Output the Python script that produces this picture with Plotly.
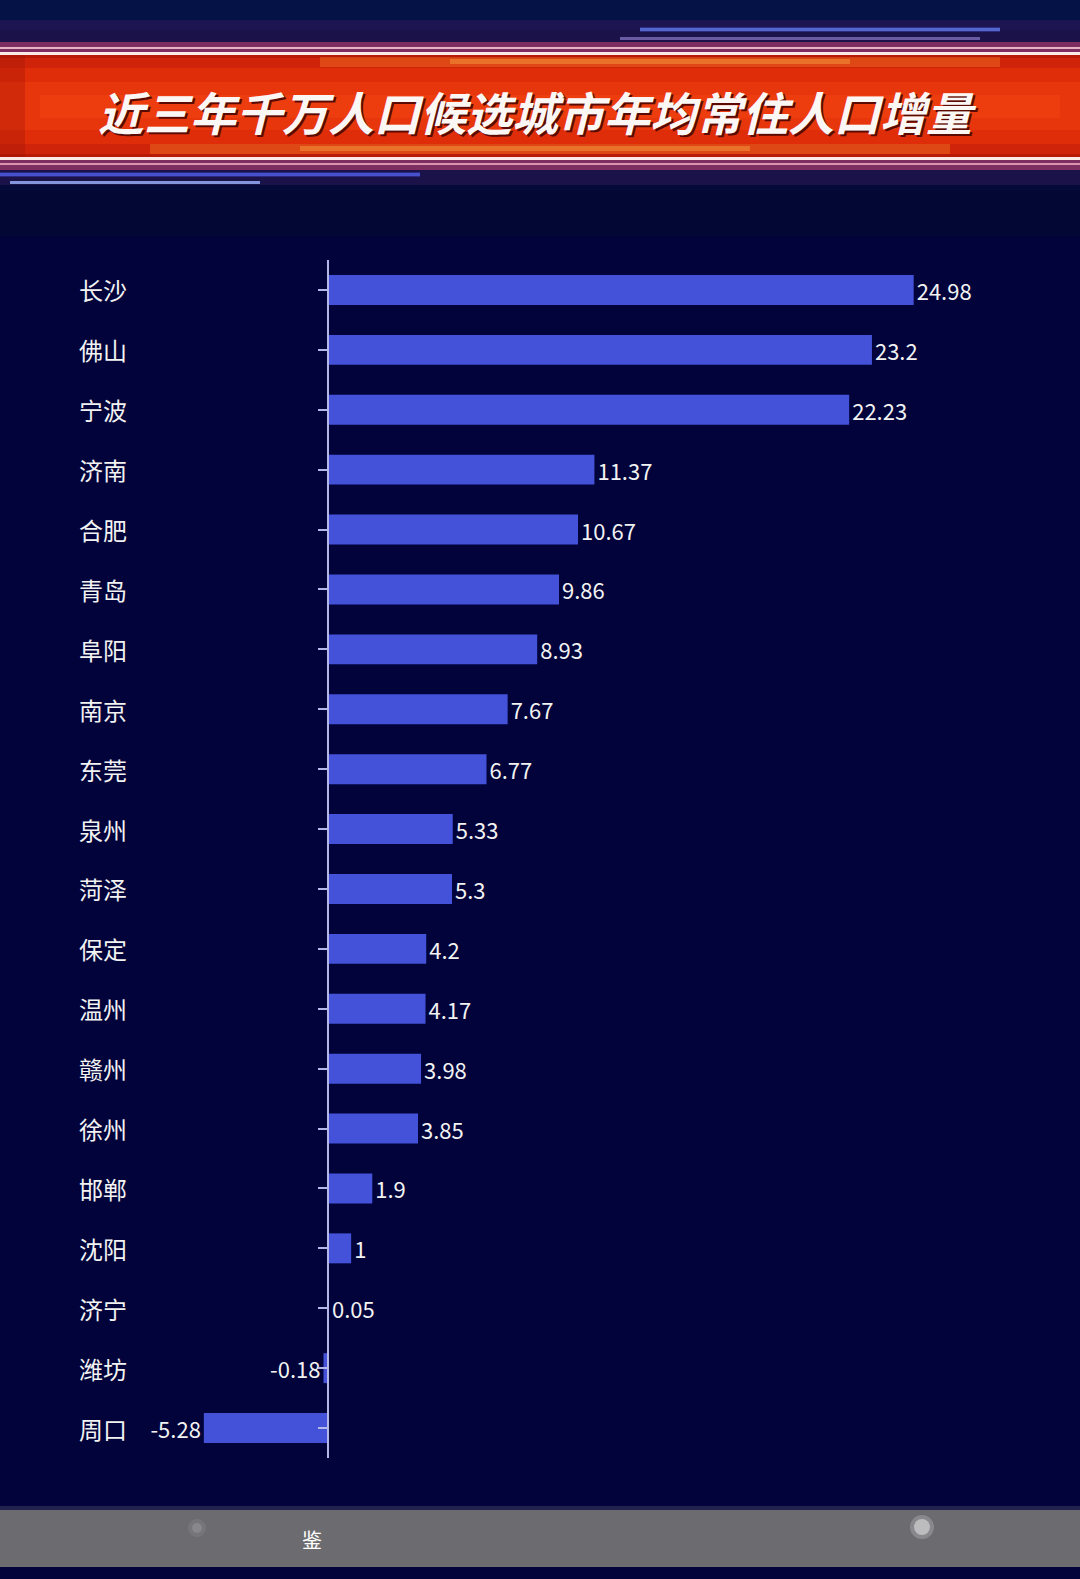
import plotly.graph_objects as go

W, H = 1080, 1579

title_text = "近三年千万人口候选城市年均常住人口增量"
cities = ["长沙", "佛山", "宁波", "济南", "合肥", "青岛", "阜阳", "南京", "东莞", "泉州",
          "菏泽", "保定", "温州", "赣州", "徐州", "邯郸", "沈阳", "济宁", "潍坊", "周口"]
values = [24.98, 23.2, 22.23, 11.37, 10.67, 9.86, 8.93, 7.67, 6.77, 5.33,
          5.3, 4.2, 4.17, 3.98, 3.85, 1.9, 1, 0.05, -0.18, -5.28]
value_labels = [f"{v:g}" for v in values]
footer_text = "鉴"

BG = "#01033a"
BAR = "#4352d9"
AXIS = "#b4b8e8"
FONT = "Noto Sans CJK SC"

X_MIN, X_MAX = -13.97, 32.07


def py(p):
    return 1 - p / H


def px(p):
    return p / W


fig = go.Figure()
fig.add_trace(go.Bar(
    x=values, y=cities, orientation="h",
    marker=dict(color=BAR, line=dict(width=0)),
    text=value_labels, textposition="outside", constraintext="none",
    textfont=dict(color="#f2f2f2", size=22, family=FONT),
    cliponaxis=False, hoverinfo="skip",
))

shapes = []


def rect(x0, y0, x1, y1, color, opacity=1.0, layer="above"):
    shapes.append(dict(type="rect", xref="paper", yref="paper",
                       x0=px(x0), x1=px(x1), y0=py(y1), y1=py(y0),
                       fillcolor=color, opacity=opacity, line=dict(width=0), layer=layer))


# header background
rect(0, 0, 1080, 236, "#040b3a")
rect(0, 0, 1080, 30, "#051448", 0.8)
rect(0, 190, 1080, 236, "#030733", 0.9)
rect(0, 20, 1080, 52, "#3a1a60", 0.45)
rect(0, 158, 1080, 185, "#3a1a60", 0.45)
# blue streaks
rect(640, 27, 1000, 32, "#4f6cff", 0.3)
rect(640, 28, 1000, 31, "#6f8cff", 0.6)
rect(620, 37, 980, 40, "#b7a4ff", 0.5)
rect(0, 172, 420, 177, "#4b5cff", 0.3)
rect(0, 173, 420, 176, "#5b6cff", 0.6)
rect(10, 181, 260, 184, "#9fb8ff", 0.8)
# pink glow
rect(0, 42, 1080, 52, "#c04070", 0.6)
rect(0, 159, 1080, 170, "#c04070", 0.6)
# red band gradient
rect(0, 52, 1080, 160, "#b81a08")
rect(0, 58, 1080, 154, "#cf2409")
rect(0, 68, 1080, 144, "#df2d0a")
rect(0, 82, 1080, 130, "#e8360c")
rect(40, 95, 1060, 118, "#ee3f0e", 0.8)
rect(0, 52, 25, 160, "#9c1006", 0.3)
# yellow glow
rect(320, 57, 1000, 67, "#ff9a30", 0.3)
rect(450, 59, 850, 64, "#ffc050", 0.35)
rect(150, 144, 950, 154, "#ff9a30", 0.3)
rect(300, 146, 750, 151, "#ffc050", 0.35)
# white lines
rect(0, 47, 1080, 49, "#ffd6e0", 0.8)
rect(0, 52, 1080, 55, "#fff4f4", 0.95)
rect(0, 157, 1080, 160, "#fff4f4", 0.95)
rect(0, 163, 1080, 165, "#ffc0d0", 0.7)

# footer
rect(0, 1510, 1080, 1567, "#6c6c70")
rect(0, 1506, 1080, 1510, "#2a2a55", 0.8)
for cx, cy, r, op, col in [(197, 1528, 9, 0.2, "#a0a0a6"), (197, 1528, 5, 0.3, "#b0b0b6"),
                           (922, 1527, 12, 0.25, "#e0e0e4"), (922, 1527, 8, 0.5, "#f0f0f2")]:
    shapes.append(dict(type="circle", xref="paper", yref="paper",
                       x0=px(cx - r), x1=px(cx + r), y0=py(cy + r), y1=py(cy - r),
                       fillcolor=col, opacity=op, line=dict(width=0)))

annotations = [
    dict(text=f"<b><i>{title_text}</i></b>", xref="paper", yref="paper",
         x=px(539), y=py(113), xanchor="center", yanchor="middle", showarrow=False,
         font=dict(family=FONT, size=46, color="#5a0a02")),
    dict(text=f"<b><i>{title_text}</i></b>", xref="paper", yref="paper",
         x=px(537), y=py(111), xanchor="center", yanchor="middle", showarrow=False,
         font=dict(family=FONT, size=46, color="#fbf7f5")),
    dict(text=footer_text, xref="paper", yref="paper", x=px(312), y=py(1539),
         xanchor="center", yanchor="middle", showarrow=False,
         font=dict(family=FONT, size=20, color="#ffffff")),
]
for c in cities:
    annotations.append(dict(text=c, xref="paper", yref="y", x=px(77), y=c,
                            xanchor="left", yanchor="middle", showarrow=False,
                            font=dict(family=FONT, size=24, color="#f2f2f2")))

pos = (0 - X_MIN) / (X_MAX - X_MIN)

fig.update_layout(
    width=W, height=H, margin=dict(l=0, r=0, t=0, b=0),
    paper_bgcolor=BG, plot_bgcolor=BG,
    showlegend=False, bargap=0.5,
    font=dict(family=FONT, color="#f2f2f2"),
    xaxis=dict(range=[X_MIN, X_MAX], domain=[0, 1], visible=False, fixedrange=True),
    yaxis=dict(domain=[py(1458), py(260)], autorange="reversed",
               anchor="free", position=pos, side="left",
               showline=True, linecolor=AXIS, linewidth=2,
               ticks="outside", ticklen=9, tickcolor=AXIS, tickwidth=1.5,
               showticklabels=False, showgrid=False, zeroline=False),
    shapes=shapes, annotations=annotations,
)

fig.write_html("out.html")
